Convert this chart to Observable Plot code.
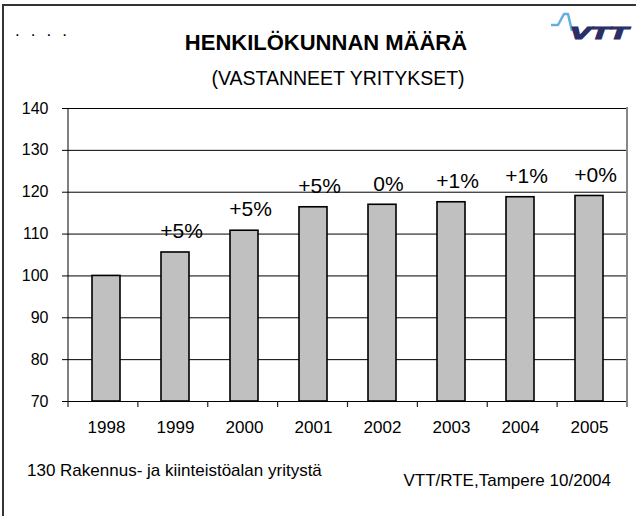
<!DOCTYPE html>
<html><head><meta charset="utf-8">
<script src="https://cdn.jsdelivr.net/npm/d3@7"></script>
<script src="https://cdn.jsdelivr.net/npm/@observablehq/plot@0.6"></script>
<style>
html,body{margin:0;padding:0;background:#fff;}
#wrap{position:relative;width:636px;height:516px;overflow:hidden;background:#fff;}
#wrap svg{position:absolute;left:0;top:0;}
#border{position:absolute;left:2px;top:4px;width:640px;height:520px;border-left:2px solid #333;border-top:2px solid #333;pointer-events:none;}
</style></head><body><div id="wrap"></div>
<script>
const years = ["1998", "1999", "2000", "2001", "2002", "2003", "2004", "2005"];
const values = [100, 105.6, 110.8, 116.4, 117.0, 117.6, 118.8, 119.1];
const changeLabels = ["", "+5%", "+5%", "+5%", "0%", "+1%", "+1%", "+0%"];
const yTicks = [70, 80, 90, 100, 110, 120, 130, 140];
const titleText = "HENKILÖKUNNAN MÄÄRÄ";
const subtitleText = "(VASTANNEET YRITYKSET)";
const footerLeft = "130 Rakennus- ja kiinteistöalan yritystä";
const footerRight = "VTT/RTE,Tampere 10/2004";

const data = years.map((year, i) => ({year, value: values[i], label: changeLabels[i]}));
const FONT = "'Liberation Sans', Arial, Helvetica, sans-serif";

const plot = Plot.plot({
  width: 636, height: 516,
  marginLeft: 68, marginRight: 9, marginTop: 108, marginBottom: 115,
  style: {fontFamily: FONT, fontSize: "16px", color: "#000", background: "#fff"},
  x: {type: "band", domain: years, paddingInner: 0.6, paddingOuter: 0.3, label: null},
  y: {domain: [70, 140], ticks: yTicks, label: null},
  marks: [
    Plot.gridY(yTicks, {stroke: "#000", strokeOpacity: 1, strokeWidth: 1}),
    Plot.barY(data, {x: "year", y1: 70, y2: "value", fill: "#c0c0c0", stroke: "#000", strokeWidth: 1.6}),
    Plot.text(data.filter(d => d.label), {x: "year", y: "value", text: "label", dy: -21, dx: 6, fontSize: 21, fill: "#000"}),
    Plot.axisY(yTicks, {tickSize: 6, tickPadding: 14, fontSize: 16, stroke: "#000", fill: "#000", label: null}),
    Plot.axisX({tickSize: 0, tickPadding: 19, fontSize: 17, fill: "#000", label: null})
  ]
});

const wrap = document.getElementById("wrap");
wrap.appendChild(plot);
const border = document.createElement("div");
border.id = "border";
wrap.appendChild(border);

const svg = d3.select(plot);
const xs = plot.scale("x"), ys = plot.scale("y");
const [r0, r1] = xs.range;
const step = (r1 - r0) / years.length;
const yb = ys.apply(70), yt = ys.apply(140);
const g = svg.append("g");
// x tick marks at category boundaries
d3.range(years.length + 1).forEach(i => {
  g.append("line")
    .attr("x1", r0 + i * step).attr("x2", r0 + i * step)
    .attr("y1", yb).attr("y2", yb + 6)
    .attr("stroke", "#222").attr("stroke-width", 1.2);
});
// left axis line
g.append("line").attr("x1", r0).attr("x2", r0).attr("y1", yt).attr("y2", yb)
  .attr("stroke", "#000").attr("stroke-width", 1);
// right plot-area border (grey)
g.append("line").attr("x1", r1).attr("x2", r1).attr("y1", yt - 1).attr("y2", yb + 6)
  .attr("stroke", "#888").attr("stroke-width", 2);

// texts
const t = svg.append("g").attr("font-family", FONT).attr("fill", "#000").attr("text-anchor", "start");
t.append("text").attr("x", 326).attr("y", 50).attr("text-anchor", "middle")
  .attr("font-size", 22).attr("font-weight", "bold").text(titleText);
t.append("text").attr("x", 338).attr("y", 85).attr("text-anchor", "middle")
  .attr("font-size", 19.5).text(subtitleText);
t.append("text").attr("x", 27).attr("y", 476).attr("text-anchor", "start")
  .attr("font-size", 17).text(footerLeft);
t.append("text").attr("x", 611).attr("y", 486).attr("text-anchor", "end")
  .attr("font-size", 17).text(footerRight);
t.append("text").attr("x", 15).attr("y", 36).attr("text-anchor", "start").attr("font-size", 17)
  .attr("letter-spacing", 11).text("....");

// VTT logo
const logo = svg.append("g");
logo.append("polyline").attr("points", "551,25 558,25 564,14 568,14 572,31")
  .attr("fill", "none").attr("stroke", "#63b0e0").attr("stroke-width", 2.5)
  .attr("stroke-linejoin", "round");
logo.append("text").attr("x", 570).attr("y", 39).attr("font-family", FONT)
  .attr("text-anchor", "start")
  .attr("font-size", 16).attr("font-weight", "bold").attr("font-style", "italic")
  .attr("textLength", 58).attr("lengthAdjust", "spacingAndGlyphs")
  .attr("fill", "#2b2f66").attr("stroke", "#2b2f66").attr("stroke-width", 1.2)
  .text("VTT");
</script></body></html>
